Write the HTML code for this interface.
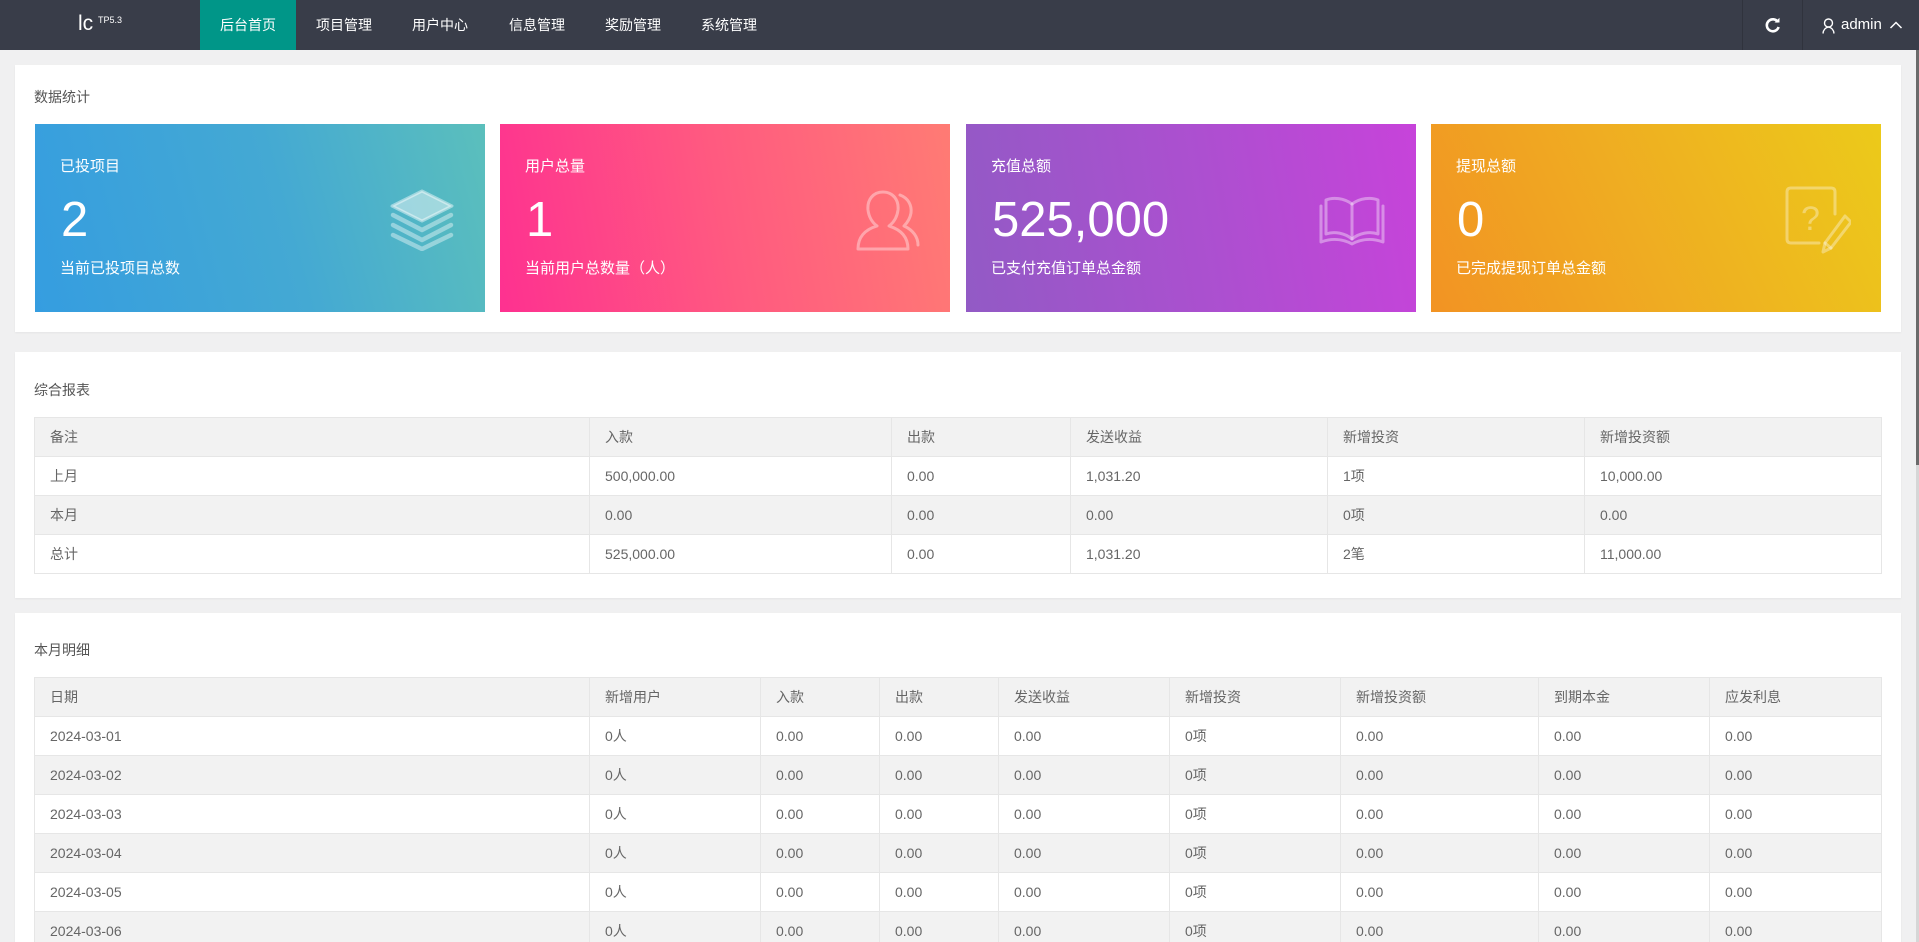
<!DOCTYPE html>
<html><head><meta charset="utf-8">
<style>
*{margin:0;padding:0;box-sizing:border-box;}
html,body{width:1919px;height:942px;overflow:hidden;}
body{background:#f0f0f1;font-family:"Liberation Sans","Noto Sans CJK SC",sans-serif;position:relative;color:#666;}
.hdr{position:absolute;left:0;top:0;width:1919px;height:50px;background:#393d49;}
.logo{position:absolute;left:78px;top:9px;color:#fff;font-size:21px;line-height:30px;}
.logo2{position:absolute;left:98px;top:14px;color:#fff;font-size:9px;line-height:12px;}
.nav{position:absolute;top:0;height:50px;width:96px;line-height:50px;text-align:center;color:#fff;font-size:14px;}
.nav.on{background:#009688;}
.sep{position:absolute;top:0;width:1px;height:50px;background:#30333d;}
.card{position:absolute;left:15px;width:1886px;background:#fff;box-shadow:0 1px 2px rgba(0,0,0,.05);}
.ttl{position:absolute;left:34px;font-size:14px;line-height:20px;color:#555;}
.box{position:absolute;top:124px;height:188px;width:450px;color:#fff;}
.box .a{position:absolute;left:25px;top:33px;font-size:15px;line-height:20px;}
.box .n{position:absolute;left:26px;top:72px;font-size:49px;line-height:49px;font-weight:normal;}
.box .b{position:absolute;left:25px;top:135px;font-size:15px;line-height:20px;}
.box svg{position:absolute;}
table{position:absolute;left:34px;width:1847px;border-collapse:collapse;table-layout:fixed;font-size:14px;color:#666;}
td,th{border:1px solid #e6e6e6;padding:9px 15px;line-height:20px;height:39px;text-align:left;font-weight:normal;white-space:nowrap;overflow:hidden;}
thead tr{background:#f2f2f2;}
tbody tr:nth-child(even){background:#f2f2f2;}
tbody tr:nth-child(odd){background:#fff;}
</style></head><body>
<div class="hdr">
  <div class="logo">lc</div>
  <div class="logo2">TP5.3</div>
  <div class="nav on" style="left:200px">后台首页</div>
  <div class="nav" style="left:296px">项目管理</div>
  <div class="nav" style="left:392px">用户中心</div>
  <div class="nav" style="left:489px">信息管理</div>
  <div class="nav" style="left:585px">奖励管理</div>
  <div class="nav" style="left:681px">系统管理</div>
  <div class="sep" style="left:1742px"></div>
  <div class="sep" style="left:1802px"></div>
  <svg style="position:absolute;left:1765px;top:17px" width="16" height="16" viewBox="0 0 16 16">
    <path d="M13 5.2 A6 6 0 1 0 13.6 10" fill="none" stroke="#fff" stroke-width="2.6"/>
    <path d="M9.5 5.5 L14.5 5.5 L14.5 0.8 Z" fill="#fff"/>
  </svg>
  <svg style="position:absolute;left:1822px;top:18px" width="13" height="16" viewBox="0 0 13 16">
    <circle cx="6.5" cy="5" r="4" fill="none" stroke="#fff" stroke-width="1.4"/>
    <path d="M1 15.5 Q1.5 10 6.5 9 Q11.5 10 12 15.5" fill="none" stroke="#fff" stroke-width="1.4"/>
  </svg>
  <div style="position:absolute;left:1841px;top:15px;color:#fff;font-size:15px;line-height:20px;">admin</div>
  <svg style="position:absolute;left:1889px;top:20px" width="14" height="10" viewBox="0 0 14 10">
    <polyline points="1.5,8 7,2.5 12.5,8" fill="none" stroke="#fff" stroke-width="1.5"/>
  </svg>
</div>

<div style="position:absolute;left:1916px;top:50px;width:3px;height:415px;background:#6a6a6a;"></div>
<div style="position:absolute;left:1916px;top:465px;width:3px;height:477px;background:#d6d6d6;"></div>

<!-- Card 1 -->
<div class="card" style="top:65px;height:267px;"></div>
<div class="ttl" style="top:87px;">数据统计</div>

<div class="box" style="left:35px;background:linear-gradient(75deg,#359de0 0%,#44a9d3 55%,#5bbfbc 100%);">
  <div class="a">已投项目</div>
  <div class="n">2</div>
  <div class="b">当前已投项目总数</div>
  <svg style="left:354px;top:65px" width="66" height="62" viewBox="0 0 66 62">
    <g fill="none" stroke="rgba(255,255,255,0.4)" stroke-width="4.5" stroke-linecap="round" stroke-linejoin="round">
      <path d="M4 26 L33 41 L62 26"/>
      <path d="M4 36 L33 51 L62 36"/>
      <path d="M4 46 L33 60 L62 46"/>
    </g>
    <path d="M33 2 L63 17 L33 32 L3 17 Z" fill="rgba(255,255,255,0.45)" stroke="rgba(255,255,255,0.45)" stroke-width="3" stroke-linejoin="round"/>
  </svg>
</div>

<div class="box" style="left:500px;background:linear-gradient(80deg,#fe3190 0%,#ff5a80 50%,#ff7b74 100%);">
  <div class="a">用户总量</div>
  <div class="n">1</div>
  <div class="b">当前用户总数量（人）</div>
  <svg style="left:355px;top:65px" width="66" height="63" viewBox="0 0 66 63">
    <g fill="none" stroke="rgba(255,255,255,0.38)" stroke-width="3" stroke-linecap="round" stroke-linejoin="round">
      <path d="M28 3 C18 3 12 11 13 21 C14 29 18 34 22 37 C12 40 3 46 3 60 L53 60 C53 46 44 40 34 37 C38 34 42 29 43 21 C44 11 38 3 28 3 Z"/>
      <path d="M45 6 C53 9 57 16 56 24 C55 30 52 34 49 37 C58 41 63 48 63 56"/>
    </g>
  </svg>
</div>

<div class="box" style="left:966px;background:linear-gradient(80deg,#925ac5 0%,#ad4fd0 55%,#c743da 100%);">
  <div class="a">充值总额</div>
  <div class="n">525,000</div>
  <div class="b">已支付充值订单总金额</div>
  <svg style="left:353px;top:70px" width="66" height="52" viewBox="0 0 66 52">
    <g fill="none" stroke="rgba(255,255,255,0.38)" stroke-width="3" stroke-linecap="round" stroke-linejoin="round">
      <path d="M33 10 C25 4 14 3 7 6 L7 40 C15 37 26 39 33 45 C40 39 51 37 59 40 L59 6 C52 3 41 4 33 10 Z"/>
      <path d="M33 10 L33 45"/>
      <path d="M2 12 L2 48 C13 44 24 45 33 50 C42 45 53 44 64 48 L64 12"/>
    </g>
  </svg>
</div>

<div class="box" style="left:1431px;background:linear-gradient(65deg,#f29323 0%,#efac22 45%,#ecca1a 100%);">
  <div class="a">提现总额</div>
  <div class="n">0</div>
  <div class="b">已完成提现订单总金额</div>
  <svg style="left:354px;top:62px" width="66" height="68" viewBox="0 0 66 68">
    <g fill="none" stroke="rgba(255,255,255,0.35)" stroke-width="3" stroke-linecap="round" stroke-linejoin="round">
      <path d="M34 57 L6 57 Q2 57 2 53 L2 6 Q2 2 6 2 L46 2 Q50 2 50 6 L50 28"/>
      <path d="M60 30 L66 36 L46 62 L38 66 L40 57 Z"/>
      <path d="M40 57 L46 62"/>
    </g>
    <text x="16" y="44" font-family="Liberation Sans, sans-serif" font-size="34" fill="rgba(255,255,255,0.35)">?</text>
  </svg>
</div>

<!-- Card 2 -->
<div class="card" style="top:352px;height:246px;"></div>
<div class="ttl" style="top:380px;">综合报表</div>
<table style="top:417px;">
  <colgroup><col style="width:555px"><col style="width:302px"><col style="width:179px"><col style="width:257px"><col style="width:257px"><col style="width:297px"></colgroup>
  <thead><tr><th>备注</th><th>入款</th><th>出款</th><th>发送收益</th><th>新增投资</th><th>新增投资额</th></tr></thead>
  <tbody>
    <tr><td>上月</td><td>500,000.00</td><td>0.00</td><td>1,031.20</td><td>1项</td><td>10,000.00</td></tr>
    <tr><td>本月</td><td>0.00</td><td>0.00</td><td>0.00</td><td>0项</td><td>0.00</td></tr>
    <tr><td>总计</td><td>525,000.00</td><td>0.00</td><td>1,031.20</td><td>2笔</td><td>11,000.00</td></tr>
  </tbody>
</table>

<!-- Card 3 -->
<div class="card" style="top:613px;height:340px;"></div>
<div class="ttl" style="top:640px;">本月明细</div>
<table style="top:677px;">
  <colgroup><col style="width:555px"><col style="width:171px"><col style="width:119px"><col style="width:119px"><col style="width:171px"><col style="width:171px"><col style="width:198px"><col style="width:171px"><col style="width:172px"></colgroup>
  <thead><tr><th>日期</th><th>新增用户</th><th>入款</th><th>出款</th><th>发送收益</th><th>新增投资</th><th>新增投资额</th><th>到期本金</th><th>应发利息</th></tr></thead>
  <tbody>
    <tr><td>2024-03-01</td><td>0人</td><td>0.00</td><td>0.00</td><td>0.00</td><td>0项</td><td>0.00</td><td>0.00</td><td>0.00</td></tr>
    <tr><td>2024-03-02</td><td>0人</td><td>0.00</td><td>0.00</td><td>0.00</td><td>0项</td><td>0.00</td><td>0.00</td><td>0.00</td></tr>
    <tr><td>2024-03-03</td><td>0人</td><td>0.00</td><td>0.00</td><td>0.00</td><td>0项</td><td>0.00</td><td>0.00</td><td>0.00</td></tr>
    <tr><td>2024-03-04</td><td>0人</td><td>0.00</td><td>0.00</td><td>0.00</td><td>0项</td><td>0.00</td><td>0.00</td><td>0.00</td></tr>
    <tr><td>2024-03-05</td><td>0人</td><td>0.00</td><td>0.00</td><td>0.00</td><td>0项</td><td>0.00</td><td>0.00</td><td>0.00</td></tr>
    <tr><td>2024-03-06</td><td>0人</td><td>0.00</td><td>0.00</td><td>0.00</td><td>0项</td><td>0.00</td><td>0.00</td><td>0.00</td></tr>
  </tbody>
</table>
</body></html>
